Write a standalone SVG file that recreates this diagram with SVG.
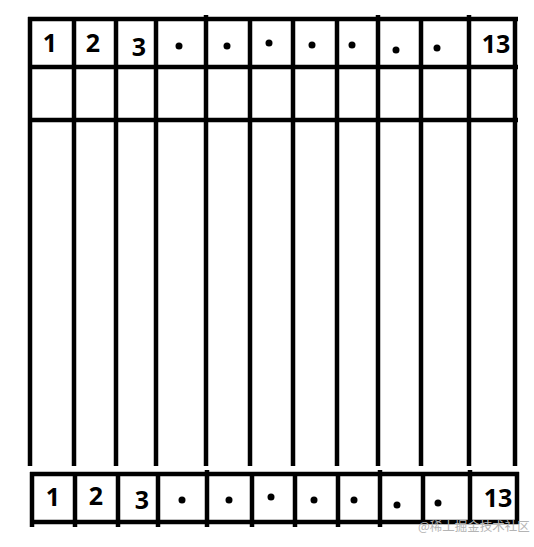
<svg xmlns="http://www.w3.org/2000/svg" width="534" height="547" viewBox="0 0 534 547">
<style>
.ln{stroke:#000;stroke-width:4.5;fill:none;stroke-linecap:butt}
.num{font-family:"Noto Sans","Open Sans",sans-serif;font-weight:bold;font-size:25px;fill:#000;text-anchor:middle}
.wm{font-family:"Noto Sans CJK SC","Noto Sans",sans-serif;font-size:12.5px;fill:#b4b4b4}
</style>
<rect width="534" height="547" fill="#fff"/>
<g id="top-table" class="ln">
<line x1="28" y1="19" x2="518" y2="19"/>
<line x1="28" y1="67" x2="518" y2="67"/>
<line x1="28" y1="120" x2="518" y2="120"/>
<line x1="30" y1="17" x2="30" y2="466"/>
<line x1="74" y1="17" x2="74" y2="466"/>
<line x1="116" y1="17" x2="116" y2="466"/>
<line x1="156" y1="17" x2="156" y2="466"/>
<line x1="206" y1="15" x2="206" y2="466"/>
<line x1="250" y1="17" x2="250" y2="466"/>
<line x1="293" y1="17" x2="293" y2="466"/>
<line x1="337" y1="17" x2="337" y2="466"/>
<line x1="378" y1="15" x2="378" y2="466"/>
<line x1="421" y1="17" x2="421" y2="466"/>
<line x1="469" y1="15" x2="469" y2="466"/>
<line x1="515" y1="17" x2="515" y2="466"/>
</g>
<g id="bottom-table" class="ln">
<line x1="30" y1="474" x2="519" y2="474"/>
<line x1="30" y1="522" x2="519" y2="522"/>
<line x1="32" y1="472" x2="32" y2="527"/>
<line x1="75" y1="472" x2="75" y2="527"/>
<line x1="118" y1="472" x2="118" y2="527"/>
<line x1="158" y1="472" x2="158" y2="527"/>
<line x1="207" y1="470" x2="207" y2="527"/>
<line x1="252" y1="472" x2="252" y2="527"/>
<line x1="295" y1="472" x2="295" y2="527"/>
<line x1="338" y1="472" x2="338" y2="527"/>
<line x1="380" y1="470" x2="380" y2="527"/>
<line x1="423" y1="472" x2="423" y2="524"/>
<line x1="470" y1="470" x2="470" y2="524"/>
<line x1="517" y1="472" x2="517" y2="524"/>
</g>
<g id="top-labels">
<text class="num" x="50" y="52">1</text>
<text class="num" x="93" y="52">2</text>
<text class="num" x="139" y="56">3</text>
<circle cx="179" cy="46" r="3.5"/>
<circle cx="227" cy="46" r="3.5"/>
<circle cx="269" cy="43" r="3.5"/>
<circle cx="312" cy="45" r="3.5"/>
<circle cx="352" cy="45" r="3.5"/>
<circle cx="396" cy="50" r="3.5"/>
<circle cx="437" cy="48" r="3.5"/>
<text class="num" x="496" y="53">13</text>
</g>
<g id="bottom-labels">
<text class="num" x="53" y="506">1</text>
<text class="num" x="96" y="505">2</text>
<text class="num" x="142" y="509">3</text>
<circle cx="182" cy="500" r="3.5"/>
<circle cx="229" cy="500" r="3.5"/>
<circle cx="271" cy="497" r="3.5"/>
<circle cx="314" cy="500" r="3.5"/>
<circle cx="354" cy="500" r="3.5"/>
<circle cx="397" cy="505" r="3.5"/>
<circle cx="438" cy="503" r="3.5"/>
<text class="num" x="498" y="507">13</text>
</g>
<text class="wm" x="418" y="531">@稀土掘金技术社区</text>
</svg>
